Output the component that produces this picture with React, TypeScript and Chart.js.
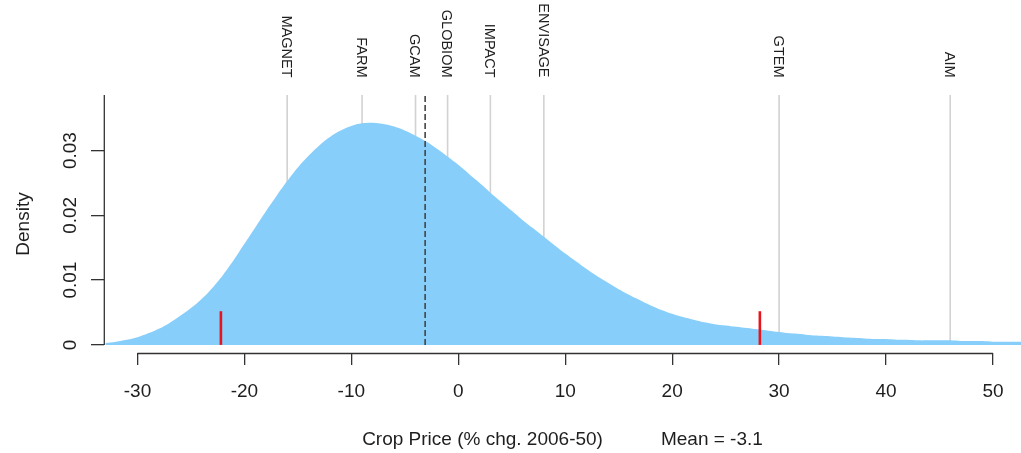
import { useEffect, useRef } from "react";
import { Chart, registerables } from "chart.js";

Chart.register(...registerables);

// ---- data ----
const densityX = [
  -33, -32, -31, -30, -29, -28, -27, -26, -25, -24, -23, -22, -21, -20, -19, -18, -17, -16, -15, -14,
  -13, -12, -11, -10, -9, -8, -7, -6, -5, -4, -3, -2, -1, 0, 1, 2, 3, 4, 5, 6, 7, 8, 9, 10, 11, 12,
  13, 14, 15, 16, 17, 18, 19, 20, 21, 22, 23, 24, 25, 26, 27, 28, 29, 30, 31, 32, 33, 34, 35, 36, 37,
  38, 39, 40, 41, 42, 43, 44, 45, 46, 47, 48, 49, 50, 51, 52, 53,
];
const densityY = [
  0.0003, 0.0005, 0.0008, 0.0012, 0.0018, 0.0025, 0.0034, 0.0045, 0.0057, 0.0071, 0.0088, 0.0108,
  0.0131, 0.0156, 0.0181, 0.0206, 0.023, 0.0253, 0.0274, 0.0292, 0.0308, 0.0321, 0.0331, 0.0338,
  0.0342, 0.0343, 0.0341, 0.0337, 0.0331, 0.0323, 0.0314, 0.0303, 0.0291, 0.0278, 0.0264, 0.025,
  0.0235, 0.0221, 0.0207, 0.0193, 0.018, 0.0167, 0.0154, 0.0141, 0.0129, 0.0117, 0.0106, 0.0096,
  0.0086, 0.0077, 0.0069, 0.0061, 0.0054, 0.0048, 0.0043, 0.0039, 0.0035, 0.0032, 0.003, 0.0028,
  0.0026, 0.0024, 0.0022, 0.002, 0.0018, 0.0017, 0.0015, 0.0014, 0.0013, 0.0012, 0.0011, 0.001,
  0.0009, 0.0009, 0.0008, 0.0008, 0.0007, 0.0007, 0.0007, 0.0007, 0.0006, 0.0006, 0.0006, 0.0005,
  0.0005, 0.0005, 0.0005,
];
const modelNames = ["MAGNET", "FARM", "GCAM", "GLOBIOM", "IMPACT", "ENVISAGE", "GTEM", "AIM"];
const modelValues = [-16, -9, -4, -1, 3, 8, 30, 46];
const meanValue = -3.1;
const intervalBounds = [-22.2, 28.2];
const intervalMarkHeight = 0.0052;
const xTicks = [-30, -20, -10, 0, 10, 20, 30, 40, 50];
const yTicks = [0, 0.01, 0.02, 0.03];
const yTickLabels = ["0", "0.01", "0.02", "0.03"];
const xTitle = "Crop Price (% chg. 2006-50)";
const meanLabel = "Mean = -3.1";
const yTitle = "Density";

const X_MIN = -33.13;
const X_MAX = 52.62;
const Y_MIN = -0.00125;
const Y_MAX = 0.03858;

const FONT = "'Liberation Sans', Arial, Helvetica, sans-serif";
const TEXT = "#1e1e1e";
const AXIS = "#333333";

const overlay = {
  id: "overlay",
  afterDraw(chart: any) {
    const ctx = chart.ctx;
    const xs = chart.scales.x;
    const ys = chart.scales.y;
    const ca = chart.chartArea;
    ctx.save();
    // x axis line
    ctx.strokeStyle = AXIS;
    ctx.lineWidth = 1.3;
    ctx.beginPath();
    ctx.moveTo(xs.getPixelForValue(xTicks[0]), ca.bottom + 0.5);
    ctx.lineTo(xs.getPixelForValue(xTicks[xTicks.length - 1]), ca.bottom + 0.5);
    ctx.stroke();
    // y axis line
    ctx.beginPath();
    ctx.moveTo(ca.left + 0.3, ys.getPixelForValue(0));
    ctx.lineTo(ca.left + 0.3, ca.top);
    ctx.stroke();

    // y tick labels (rotated)
    ctx.fillStyle = TEXT;
    ctx.font = `19px ${FONT}`;
    ctx.textAlign = "center";
    ctx.textBaseline = "alphabetic";
    yTicks.forEach((v, i) => {
      ctx.save();
      ctx.translate(76, ys.getPixelForValue(v));
      ctx.rotate(-Math.PI / 2);
      ctx.fillText(yTickLabels[i], 0, 0);
      ctx.restore();
    });
    // y title
    ctx.save();
    ctx.translate(28.5, (ca.top + ca.bottom) / 2);
    ctx.rotate(-Math.PI / 2);
    ctx.fillText(yTitle, 0, 0);
    ctx.restore();

    // x title + mean
    const gap = 58;
    const w1 = ctx.measureText(xTitle).width;
    const w2 = ctx.measureText(meanLabel).width;
    const center = (ca.left + ca.right) / 2;
    const start = center - (w1 + gap + w2) / 2;
    ctx.textAlign = "left";
    ctx.fillText(xTitle, start, 444.5);
    ctx.fillText(meanLabel, start + w1 + gap, 444.5);

    // model labels at top
    ctx.font = `14.5px ${FONT}`;
    ctx.textAlign = "right";
    modelNames.forEach((name, i) => {
      ctx.save();
      ctx.translate(xs.getPixelForValue(modelValues[i]), 77.5);
      ctx.rotate(Math.PI / 2);
      ctx.fillText(name, 0, 5.3);
      ctx.restore();
    });
    ctx.restore();
  },
};

export default function App() {
  const ref = useRef<HTMLCanvasElement | null>(null);
  useEffect(() => {
    document.body.style.margin = "0";
    const canvas = ref.current;
    if (!canvas) return;

    const vline = (x: number, y0: number, y1: number) => [
      { x, y: y0 },
      { x, y: y1 },
    ];

    const modelSets = modelValues.map((v, i) => ({
      label: modelNames[i],
      data: vline(v, 0, Y_MAX),
      showLine: true,
      borderColor: "#d2d2d2",
      borderWidth: 1.6,
      pointRadius: 0,
      fill: false,
      order: 3,
    }));

    const chart = new Chart(canvas, {
      type: "scatter",
      data: {
        datasets: [
          ...modelSets,
          {
            label: "density",
            data: densityX.map((x, i) => ({ x, y: densityY[i] })),
            showLine: true,
            borderWidth: 0,
            borderColor: "rgba(135,206,250,1)",
            backgroundColor: "#87CEFA",
            fill: "origin",
            pointRadius: 0,
            tension: 0.4,
            order: 2,
          },
          {
            label: "mean",
            data: vline(meanValue, 0, Y_MAX),
            showLine: true,
            borderColor: "#444444",
            borderWidth: 1.6,
            borderDash: [6, 3],
            pointRadius: 0,
            fill: false,
            order: 1,
          },
          ...intervalBounds.map((b) => ({
            label: "bound",
            data: vline(b, 0, intervalMarkHeight),
            showLine: true,
            borderColor: "#e8141c",
            borderWidth: 2.6,
            pointRadius: 0,
            fill: false,
            order: 0,
          })),
        ] as any,
      },
      options: {
        animation: false,
        responsive: true,
        maintainAspectRatio: false,
        layout: { padding: { top: 95, left: 0, right: 0, bottom: 0 } },
        plugins: { legend: { display: false }, tooltip: { enabled: false } },
        scales: {
          x: {
            type: "linear",
            position: "bottom",
            min: X_MIN,
            max: X_MAX,
            afterBuildTicks: (s: any) => {
              s.ticks = xTicks.map((v) => ({ value: v }));
            },
            afterFit: (s: any) => {
              s.height = 100;
            },
            border: { display: false },
            grid: {
              drawOnChartArea: false,
              drawTicks: true,
              tickLength: 12,
              color: AXIS,
              lineWidth: 1.3,
            },
            ticks: {
              autoSkip: false,
              maxRotation: 0,
              minRotation: 0,
              padding: 15,
              color: TEXT,
              font: { family: FONT, size: 19 },
              callback: (v: any) => String(v),
            },
          },
          y: {
            type: "linear",
            position: "left",
            min: Y_MIN,
            max: Y_MAX,
            afterBuildTicks: (s: any) => {
              s.ticks = yTicks.map((v) => ({ value: v }));
            },
            afterFit: (s: any) => {
              s.width = 104;
            },
            border: { display: false },
            grid: {
              drawOnChartArea: false,
              drawTicks: true,
              tickLength: 13,
              color: AXIS,
              lineWidth: 1.3,
            },
            ticks: { display: false },
          },
        },
      },
      plugins: [overlay],
    });
    return () => chart.destroy();
  }, []);

  return (
    <div style={{ position: "relative", width: 1021, height: 453 }}>
      <canvas ref={ref} />
    </div>
  );
}
